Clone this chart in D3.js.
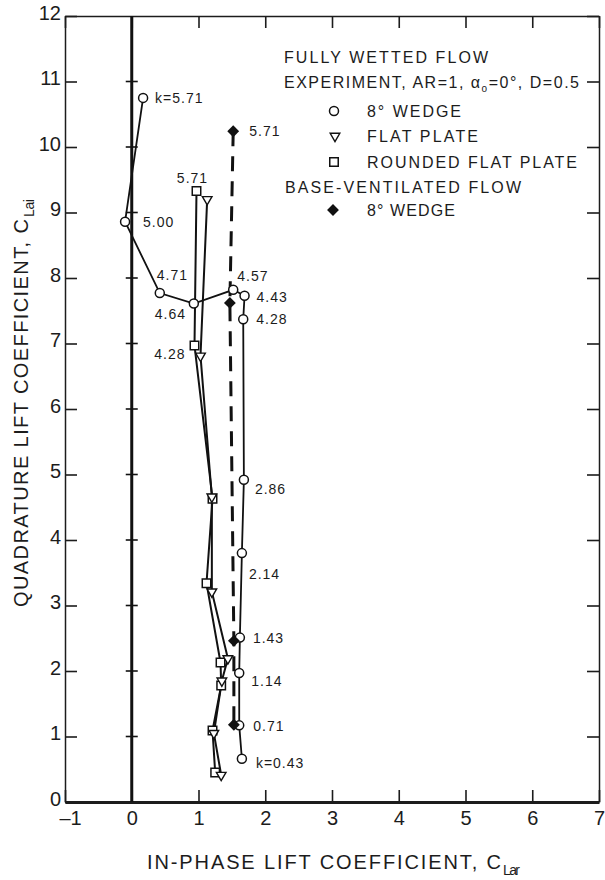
<!DOCTYPE html>
<html lang="en">
<head>
<meta charset="UTF-8">
<title>Quadrature vs in-phase lift coefficient</title>
<script src="https://cdn.jsdelivr.net/npm/d3@7"></script>
<style>
  body { margin: 0; background: #fff; }
  text { font-family: "Liberation Sans", Arial, sans-serif; fill: #1c1c1c; }
</style>
</head>
<body>
<script>
// values
var xTicks = [-1, 0, 1, 2, 3, 4, 5, 6, 7];
var yTicks = [0, 1, 2, 3, 4, 5, 6, 7, 8, 9, 10, 11, 12];

// 8 deg wedge, fully wetted (open circles)
var wedgeK = ["k=5.71", "5.00", "4.71", "4.64", "4.57", "4.43", "4.28", "2.86", "2.14", "1.43", "1.14", "0.71", "k=0.43"];
var wedgeX = [0.17, -0.10, 0.42, 0.93, 1.52, 1.69, 1.67, 1.68, 1.65, 1.62, 1.61, 1.61, 1.65];
var wedgeY = [10.75, 8.86, 7.77, 7.61, 7.82, 7.73, 7.37, 4.92, 3.80, 2.51, 1.97, 1.17, 0.66];

// flat plate (triangles)
var flatX = [1.13, 1.03, 1.20, 1.20, 1.44, 1.35, 1.23, 1.34];
var flatY = [9.20, 6.81, 4.66, 3.21, 2.19, 1.85, 1.05, 0.41];

// rounded flat plate (squares)
var roundK = ["5.71", "4.28"];
var roundX = [0.97, 0.94, 1.21, 1.12, 1.33, 1.34, 1.21, 1.25];
var roundY = [9.33, 6.97, 4.63, 3.34, 2.13, 1.78, 1.09, 0.45];

// 8 deg wedge, base-ventilated (filled diamonds)
var baseK = ["5.71"];
var baseX = [1.52, 1.47, 1.53, 1.53];
var baseY = [10.24, 7.62, 2.46, 1.18];

var width = 605, height = 880;
var svg = d3.select("body").append("svg").attr("width", width).attr("height", height);

var x = d3.scaleLinear().domain([-1, 7]).range([65, 599]);
var y = d3.scaleLinear().domain([0, 12]).range([802, 16]);

// frame + ticks (all ticks point inward)
var gTop = svg.append("g").attr("transform", "translate(0," + y(12) + ")")
    .call(d3.axisTop(x).tickValues(xTicks).tickSizeInner(-12).tickSizeOuter(0).tickFormat(""));
var gRight = svg.append("g").attr("transform", "translate(" + x(7) + ",0)")
    .call(d3.axisRight(y).tickValues(yTicks).tickSizeInner(-12).tickSizeOuter(0).tickFormat(""));
var gLeft = svg.append("g").attr("transform", "translate(" + x(-1) + ",0)")
    .call(d3.axisLeft(y).tickValues(yTicks).tickSizeInner(-12).tickSizeOuter(0).tickPadding(4));
var gBottom = svg.append("g").attr("transform", "translate(0," + y(0) + ")")
    .call(d3.axisBottom(x).tickValues(xTicks).tickSizeInner(-12).tickSizeOuter(0).tickPadding(9)
        .tickFormat(function(d) { return d < 0 ? "\u2013" + (-d) : d; }));

[gTop, gRight, gLeft, gBottom].forEach(function(g) {
    g.select(".domain").attr("stroke", "#1c1c1c").attr("stroke-width", 1.5);
    g.selectAll(".tick line").attr("stroke", "#1c1c1c").attr("stroke-width", 1.6);
    g.selectAll(".tick text").attr("font-size", 20).attr("fill", "#1c1c1c")
        .attr("font-family", "Liberation Sans, Arial, sans-serif");
});
gBottom.select(".domain").attr("stroke-width", 3);
gLeft.selectAll(".tick text").attr("dy", "0.15em");
// the "-1" label sits a little right of its tick
gBottom.selectAll(".tick text").filter(function(d) { return d < 0; }).attr("x", 5);

// heavy zero line with crossing ticks
svg.append("line")
    .attr("x1", x(0)).attr("x2", x(0)).attr("y1", y(0)).attr("y2", y(12))
    .attr("stroke", "#111").attr("stroke-width", 3);
svg.append("g").selectAll("line").data(yTicks.slice(1, 12)).enter().append("line")
    .attr("x1", x(0) - 6).attr("x2", x(0) + 6)
    .attr("y1", function(d) { return y(d); }).attr("y2", function(d) { return y(d); })
    .attr("stroke", "#111").attr("stroke-width", 1.6);

// axis titles
svg.append("text").attr("x", 147).attr("y", 869).attr("font-size", 20)
    .attr("textLength", 354).attr("lengthAdjust", "spacing")
    .text("IN-PHASE LIFT COEFFICIENT, C");
svg.append("text").attr("x", 503).attr("y", 875).attr("font-size", 14)
    .attr("textLength", 17).attr("lengthAdjust", "spacing").text("Lar");

svg.append("text").attr("transform", "translate(28,607) rotate(-90)").attr("font-size", 20)
    .attr("textLength", 388).attr("lengthAdjust", "spacing")
    .text("QUADRATURE LIFT COEFFICIENT, C");
svg.append("text").attr("transform", "translate(34,217) rotate(-90)").attr("font-size", 14)
    .attr("textLength", 18).attr("lengthAdjust", "spacing").text("Lai");

// curves
var line = d3.line().x(function(d) { return x(d[0]); }).y(function(d) { return y(d[1]); });
var wedge = d3.zip(wedgeX, wedgeY);
var flat = d3.zip(flatX, flatY);
var round = d3.zip(roundX, roundY);
var base = d3.zip(baseX, baseY);

svg.append("path").datum(flat).attr("d", line)
    .attr("fill", "none").attr("stroke", "#111").attr("stroke-width", 2);
svg.append("path").datum(round).attr("d", line)
    .attr("fill", "none").attr("stroke", "#111").attr("stroke-width", 2);
svg.append("path").datum(wedge).attr("d", line)
    .attr("fill", "none").attr("stroke", "#111").attr("stroke-width", 1.8);
svg.append("path").datum(base).attr("d", line)
    .attr("fill", "none").attr("stroke", "#111").attr("stroke-width", 3)
    .attr("stroke-dasharray", "15,10");

// markers
var sqr = d3.symbol().type(d3.symbolSquare).size(72);
var tri = d3.symbol().type(d3.symbolTriangle).size(40);
var dia = d3.symbol().type(d3.symbolSquare).size(70);

svg.append("g").selectAll("path").data(round).enter().append("path")
    .attr("d", sqr).attr("transform", function(d) { return "translate(" + x(d[0]) + "," + y(d[1]) + ")"; })
    .attr("fill", "#fff").attr("stroke", "#111").attr("stroke-width", 1.5);
svg.append("g").selectAll("path").data(flat).enter().append("path")
    .attr("d", tri).attr("transform", function(d) { return "translate(" + x(d[0]) + "," + y(d[1]) + ") rotate(180)"; })
    .attr("fill", "#fff").attr("stroke", "#111").attr("stroke-width", 1.4);
svg.append("g").selectAll("circle").data(wedge).enter().append("circle")
    .attr("cx", function(d) { return x(d[0]); }).attr("cy", function(d) { return y(d[1]); })
    .attr("r", 4.5).attr("fill", "#fff").attr("stroke", "#111").attr("stroke-width", 1.5);
svg.append("g").selectAll("path").data(base).enter().append("path")
    .attr("d", dia).attr("transform", function(d) { return "translate(" + x(d[0]) + "," + y(d[1]) + ") rotate(45)"; })
    .attr("fill", "#111");

// point labels (offsets from the marker, in px)
var wedgeOff = [[12, 0], [18, 0], [-3, -18], [-39, 10], [4, -14], [12, 1], [13, 0],
                [11, 9], [7, 21], [13, 0], [12, 8], [14, 1], [14, 4]];
var labels = svg.append("g").attr("font-size", 14).attr("letter-spacing", 1);
labels.selectAll("text.w").data(wedge).enter().append("text")
    .attr("x", function(d, i) { return x(d[0]) + wedgeOff[i][0]; })
    .attr("y", function(d, i) { return y(d[1]) + wedgeOff[i][1]; })
    .attr("dy", "0.36em")
    .text(function(d, i) { return wedgeK[i]; });
labels.append("text").attr("x", x(roundX[0]) - 4).attr("y", y(roundY[0]) - 13).attr("dy", "0.36em")
    .attr("text-anchor", "middle").text(roundK[0]);
labels.append("text").attr("x", x(roundX[1]) - 9).attr("y", y(roundY[1]) + 8).attr("dy", "0.36em")
    .attr("text-anchor", "end").text(roundK[1]);
labels.append("text").attr("x", x(baseX[0]) + 16).attr("y", y(baseY[0])).attr("dy", "0.36em")
    .text(baseK[0]);

// legend
var lg = svg.append("g").attr("font-size", 16);
lg.append("text").attr("x", 284).attr("y", 63).attr("textLength", 204).attr("lengthAdjust", "spacing")
    .text("FULLY WETTED FLOW");
var exp = lg.append("text").attr("x", 284).attr("y", 88).attr("textLength", 295).attr("lengthAdjust", "spacing");
exp.append("tspan").text("EXPERIMENT, AR=1, \u03b1");
exp.append("tspan").attr("font-size", 10).attr("dy", 4).text("o");
exp.append("tspan").attr("dy", -4).text("=0\u00b0, D=0.5");
lg.append("text").attr("x", 367).attr("y", 117).attr("textLength", 94).attr("lengthAdjust", "spacing")
    .text("8\u00b0 WEDGE");
lg.append("text").attr("x", 367).attr("y", 142).attr("textLength", 111).attr("lengthAdjust", "spacing")
    .text("FLAT PLATE");
lg.append("text").attr("x", 367).attr("y", 168).attr("textLength", 210).attr("lengthAdjust", "spacing")
    .text("ROUNDED FLAT PLATE");
lg.append("text").attr("x", 285).attr("y", 193).attr("textLength", 236).attr("lengthAdjust", "spacing")
    .text("BASE-VENTILATED FLOW");
lg.append("text").attr("x", 367).attr("y", 216).attr("textLength", 88).attr("lengthAdjust", "spacing")
    .text("8\u00b0 WEDGE");

lg.append("circle").attr("cx", 334).attr("cy", 111).attr("r", 4.5)
    .attr("fill", "#fff").attr("stroke", "#111").attr("stroke-width", 1.5);
lg.append("path").attr("d", tri).attr("transform", "translate(335,136) rotate(180)")
    .attr("fill", "#fff").attr("stroke", "#111").attr("stroke-width", 1.4);
lg.append("path").attr("d", sqr).attr("transform", "translate(334,162)")
    .attr("fill", "#fff").attr("stroke", "#111").attr("stroke-width", 1.5);
lg.append("path").attr("d", dia).attr("transform", "translate(333,210) rotate(45)")
    .attr("fill", "#111");
</script>
</body>
</html>
